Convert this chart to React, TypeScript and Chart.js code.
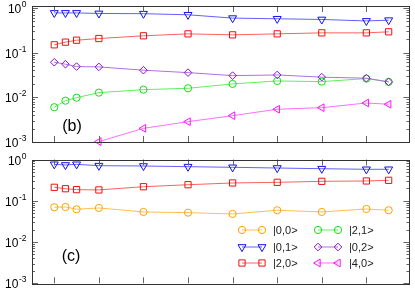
import React, { useEffect, useRef } from 'react';
import { Chart, registerables } from 'chart.js';
import { drawPoint } from 'chart.js/helpers';

Chart.register(...registerables);

// ---------- data ----------
const xValues = [2, 2.5, 3, 4, 6, 8, 10, 12, 14, 16, 17];
const xTicks = [2, 4, 6, 8, 10, 12, 14, 16];
const yDecades = [-3, -2, -1, 0];
const yDecadeLabels = ['-3', '-2', '-1', '0'];

// panel (b)
const b01 = [0.77, 0.77, 0.77, 0.75, 0.74, 0.7, 0.59, 0.57, 0.55, 0.51, 0.53];
const b20 = [0.149, 0.171, 0.189, 0.206, 0.237, 0.262, 0.249, 0.262, 0.276, 0.276, 0.291];
const b02 = [0.0608, 0.055, 0.0486, 0.0478, 0.0403, 0.0356, 0.0305, 0.0316, 0.0282, 0.0267, 0.0221];
const b21 = [0.006, 0.0084, 0.0098, 0.0127, 0.0148, 0.0159, 0.0199, 0.0232, 0.0224, 0.0262, 0.0221];
const b40 = [null, null, null, 0.00102, 0.00202, 0.00285, 0.00388, 0.0054, 0.00586, 0.00746, 0.00698];

// panel (c)
const c01 = [0.765, 0.736, 0.765, 0.708, 0.696, 0.67, 0.647, 0.622, 0.598, 0.579, 0.579];
const c20 = [0.212, 0.196, 0.186, 0.183, 0.219, 0.245, 0.27, 0.28, 0.296, 0.302, 0.313];
const c00 = [0.0696, 0.0708, 0.0622, 0.067, 0.0536, 0.0515, 0.0479, 0.0589, 0.0536, 0.0633, 0.0589];

const panelB = [
  { label: '|0,1>', values: b01 },
  { label: '|2,0>', values: b20 },
  { label: '|0,2>', values: b02 },
  { label: '|2,1>', values: b21 },
  { label: '|4,0>', values: b40 },
];
const panelC = [
  { label: '|0,1>', values: c01 },
  { label: '|2,0>', values: c20 },
  { label: '|0,0>', values: c00 },
];

const legendColumns = [
  ['|0,0>', '|0,1>', '|2,0>'],
  ['|2,1>', '|0,2>', '|4,0>'],
];

// ---------- styles ----------
type Sty = { color: string; line: string; pointStyle: string; rotation: number; radius: number };
const styles: Record<string, Sty> = {
  '|0,0>': { color: '#ffa000', line: '#ffc050', pointStyle: 'circle', rotation: 0, radius: 3.6 },
  '|0,1>': { color: '#1010f0', line: '#6060ff', pointStyle: 'triangle', rotation: 180, radius: 4.6 },
  '|2,0>': { color: '#f01010', line: '#ff6060', pointStyle: 'rect', rotation: 0, radius: 4.4 },
  '|2,1>': { color: '#10e010', line: '#60ee60', pointStyle: 'circle', rotation: 0, radius: 3.6 },
  '|0,2>': { color: '#8a10d0', line: '#b070e0', pointStyle: 'rectRot', rotation: 0, radius: 3.8 },
  '|4,0>': { color: '#ff10ff', line: '#ff70ff', pointStyle: 'triangle', rotation: -90, radius: 4.4 },
};

const FONT = '"Liberation Sans", Arial, Helvetica, sans-serif';

function makeDatasets(series: { label: string; values: (number | null)[] }[]) {
  return series.map((s) => {
    const st = styles[s.label];
    const pts = s.values
      .map((v, i) => (v == null ? null : { x: xValues[i], y: v }))
      .filter((p) => p !== null);
    return {
      label: s.label,
      data: pts,
      borderColor: st.line,
      borderWidth: 1,
      tension: 0,
      pointStyle: st.pointStyle,
      pointRotation: st.rotation,
      pointRadius: st.radius,
      pointBorderColor: st.color,
      pointBackgroundColor: 'rgba(0,0,0,0)',
      pointBorderWidth: 1,
      clip: false,
    };
  });
}

function framePlugin(panelLabel: string, labelPos: { x: number; y: number }, withLegend: boolean) {
  return {
    id: 'frame_' + panelLabel,
    afterDraw(chart: any) {
      const { ctx, chartArea: a, scales } = chart;
      const xs = scales.x;
      const ys = scales.y;
      ctx.save();
      // ticks
      ctx.strokeStyle = '#666';
      ctx.lineWidth = 1;
      ctx.beginPath();
      for (const t of xTicks) {
        const px = Math.round(xs.getPixelForValue(t)) + 0.5;
        ctx.moveTo(px, a.bottom);
        ctx.lineTo(px, a.bottom - 6);
        ctx.moveTo(px, a.top);
        ctx.lineTo(px, a.top + 6);
      }
      for (const e of yDecades) {
        for (let m = 1; m <= 9; m++) {
          const v = m * Math.pow(10, e);
          if (v < ys.min * 0.999 || v > ys.max * 1.001) continue;
          const py = Math.round(ys.getPixelForValue(v)) + 0.5;
          const len = m === 1 ? 6 : 3;
          ctx.moveTo(a.left, py);
          ctx.lineTo(a.left + len, py);
          ctx.moveTo(a.right, py);
          ctx.lineTo(a.right - len, py);
        }
      }
      ctx.stroke();
      // frame
      ctx.strokeStyle = '#333';
      ctx.strokeRect(Math.round(a.left) + 0.5, Math.round(a.top) + 0.5, Math.round(a.right - a.left), Math.round(a.bottom - a.top));
      // y labels 10^n
      ctx.fillStyle = '#000';
      yDecades.forEach((e, i) => {
        const py = ys.getPixelForValue(Math.pow(10, e));
        const sup = yDecadeLabels[i];
        ctx.font = '12px ' + FONT;
        const w10 = ctx.measureText('10').width;
        ctx.font = '8.5px ' + FONT;
        const wSup = ctx.measureText(sup).width;
        const right = a.left - 6;
        const x0 = right - w10 - wSup;
        ctx.font = '12px ' + FONT;
        ctx.textAlign = 'left';
        ctx.textBaseline = 'alphabetic';
        ctx.fillText('10', x0, py + 5);
        ctx.font = '8.5px ' + FONT;
        ctx.fillText(sup, x0 + w10 + 0.5, py - 1);
      });
      // panel label
      ctx.font = '16px ' + FONT;
      ctx.textAlign = 'center';
      ctx.textBaseline = 'middle';
      ctx.fillText(panelLabel, labelPos.x, labelPos.y);
      // legend
      if (withLegend) {
        const colX = [242, 318];
        const rowY = [80, 97, 113];
        legendColumns.forEach((col, ci) => {
          col.forEach((lab, ri) => {
            const st = styles[lab];
            const x1 = colX[ci];
            const x2 = x1 + 20;
            const y = rowY[ri];
            ctx.strokeStyle = st.line;
            ctx.lineWidth = 1;
            ctx.beginPath();
            ctx.moveTo(x1, y);
            ctx.lineTo(x2, y);
            ctx.stroke();
            ctx.strokeStyle = st.color;
            ctx.fillStyle = 'rgba(0,0,0,0)';
            for (const px of [x1, x2]) {
              drawPoint(ctx, { pointStyle: st.pointStyle, rotation: st.rotation, radius: st.radius, borderWidth: 1 } as any, px, y);
            }
            ctx.fillStyle = '#222';
            ctx.font = '11px ' + FONT;
            ctx.textAlign = 'left';
            ctx.textBaseline = 'middle';
            ctx.fillText(lab, x2 + 11, y + 0.5);
          });
        });
      }
      ctx.restore();
    },
  };
}

function Panel(props: {
  series: { label: string; values: (number | null)[] }[];
  height: number;
  top: number;
  padding: { left: number; right: number; top: number; bottom: number };
  yMax: number;
  panelLabel: string;
  labelPos: { x: number; y: number };
  withLegend: boolean;
}) {
  const ref = useRef<HTMLCanvasElement>(null);
  useEffect(() => {
    if (!ref.current) return;
    const chart = new Chart(ref.current, {
      type: 'line',
      data: { datasets: makeDatasets(props.series) as any },
      options: {
        animation: false,
        responsive: false,
        devicePixelRatio: 1,
        layout: { padding: props.padding },
        plugins: { legend: { display: false }, tooltip: { enabled: false } },
        scales: {
          x: { type: 'linear', min: 1, max: 17.93, display: false },
          y: { type: 'logarithmic', min: 1e-3, max: props.yMax, display: false },
        },
      },
      plugins: [framePlugin(props.panelLabel, props.labelPos, props.withLegend)],
    } as any);
    return () => chart.destroy();
  }, []);
  return (
    <canvas
      ref={ref}
      width={415}
      height={props.height}
      style={{ position: 'absolute', left: 0, top: props.top, width: 415, height: props.height, display: 'block' }}
    />
  );
}

export default function App() {
  return (
    <div style={{ position: 'absolute', left: 0, top: 0, width: 415, height: 292, background: '#fff', overflow: 'hidden' }}>
      <Panel
        series={panelB}
        height={150}
        top={0}
        padding={{ left: 32, right: 2.5, top: 6, bottom: 8 }}
        yMax={1.1}
        panelLabel="(b)"
        labelPos={{ x: 72, y: 127 }}
        withLegend={false}
      />
      <Panel
        series={panelC}
        height={142}
        top={150}
        padding={{ left: 32, right: 2.5, top: 9.5, bottom: 8.7 }}
        yMax={1}
        panelLabel="(c)"
        labelPos={{ x: 71, y: 106.5 }}
        withLegend={true}
      />
    </div>
  );
}
